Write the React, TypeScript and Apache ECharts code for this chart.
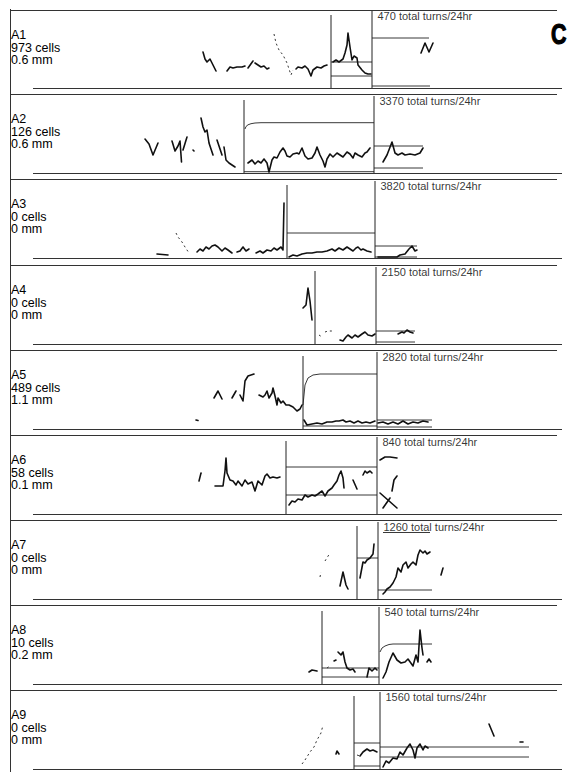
import { useEffect, useRef } from "react";
import * as echarts from "echarts";

type Pt = [number, number];
type Path = Pt[];

// ---- animal records ----
const panelIds = ["A1", "A2", "A3", "A4", "A5", "A6", "A7", "A8", "A9"];
const cellCounts = [973, 126, 0, 0, 489, 58, 0, 10, 0];
const distanceMm = ["0.6", "0.6", "0", "0", "1.1", "0.1", "0", "0.2", "0"];
const totalTurns = [470, 3370, 3820, 2150, 2820, 840, 1260, 540, 1560];

// phase boundaries (time bins): start of the middle phase, start of the last phase
const phaseBounds: Pt[] = [
  [322, 363], [235, 365], [278, 366], [306, 367], [294, 368],
  [277, 368], [348, 369], [313, 370], [345, 371],
];

// ---- activity traces (time bin, activity) ----
const solidA1: Path[] = [
  [[194, 36], [196, 29], [198, 26], [201, 29], [204, 23], [207, 17]],
  [[218, 17], [221, 21], [224, 20], [228, 21], [233, 21], [236, 22]],
  [[239, 20], [244, 27]],
  [[246, 25], [249, 23], [252, 21], [255, 22], [258, 19], [260, 20]],
  [[287, 19], [289, 21], [293, 20], [296, 22], [299, 19], [302, 12], [304, 18], [308, 21], [312, 20], [315, 22], [318, 23]],
  [[324, 26], [327, 28], [330, 26], [334, 29], [336, 35], [338, 43], [339, 55], [341, 41], [343, 28], [345, 32], [348, 30], [349, 23], [353, 18], [356, 15], [359, 14], [362, 14]],
  [[412, 35], [416, 45], [420, 36], [424, 45]],
];
const brokenA1: Path[] = [
  [[265, 54], [267, 45], [270, 38], [274, 33], [278, 25], [282, 13], [284, 18]],
];
const levelsA1: Path[] = [
  [[322, 26], [363, 26]], [[322, 12], [363, 12]],
  [[363, 50], [420, 50]], [[363, 2], [421, 2]],
];

const solidA2: Path[] = [
  [[136, 34], [140, 29], [144, 18], [149, 30]],
  [[163, 32], [166, 22], [169, 27], [171, 32], [172.5, 11]],
  [[174, 23], [178, 36]],
  [[184, 23], [185, 22]],
  [[192, 55], [194, 46], [196, 41], [198, 43], [200, 30], [204, 18]],
  [[208, 33], [213, 18]],
  [[215, 26], [217, 13], [220, 10], [223, 8], [226, 6]],
  [[239, 10], [243, 13], [246, 9], [249, 12], [252, 10], [255, 14], [258, 10], [260, 1], [263, 13], [265, 16], [268, 15], [271, 21], [274, 25], [276, 22], [278, 17], [281, 16], [284, 19], [288, 20], [290, 19], [293, 25], [296, 17], [299, 14], [303, 15], [306, 20], [308, 26], [311, 18], [314, 12], [316, 6], [318, 14], [321, 19], [324, 16], [328, 20], [331, 18], [334, 16], [338, 21], [341, 19], [344, 15], [346, 20], [349, 18], [353, 16], [356, 20], [358, 21], [361, 25]],
  [[374, 11], [378, 18], [383, 31], [386, 20], [389, 18], [393, 20], [396, 18], [401, 19], [406, 18], [411, 20], [414, 25]],
];
const brokenA2: Path[] = [];
const levelsA2: Path[] = [
  [[236, 44], [237, 46.5], [239, 48.2], [242, 49.3], [246, 50], [252, 50.3], [365, 50.3]],
  [[235, 1.3], [365, 1.3]],
  [[365, 27], [414, 27]], [[365, 5], [414, 5]],
];

const solidA3: Path[] = [
  [[148, 4], [159, 3]],
  [[188, 6], [191, 9], [194, 7], [197, 11], [200, 9], [203, 12], [206, 13], [209, 11], [213, 7], [216, 10], [219, 8], [223, 5]],
  [[228, 6], [231, 7], [234, 11], [237, 7], [240, 9]],
  [[247, 5], [251, 7], [254, 5], [258, 8], [262, 7], [265, 10], [268, 8], [272, 11], [274, 8], [275, 55]],
  [[280, 1], [284, 3], [288, 2], [293, 4], [298, 5], [303, 5], [308, 6], [313, 6], [318, 7], [323, 9], [326, 7], [330, 10], [334, 8], [338, 11], [341, 9], [344, 7], [347, 10], [349, 11], [352, 8], [354, 9], [358, 7], [362, 6]],
  [[369, 1], [381, 1], [388, 1], [391, 3], [396, 4], [400, 9], [403, 12], [406, 7], [408, 8]],
];
const brokenA3: Path[] = [
  [[167, 25], [169, 21], [173, 16], [176, 11], [180, 5]],
];
const levelsA3: Path[] = [
  [[278, 25], [366, 25]],
  [[366, 12], [408, 12]], [[366, 1], [408, 1]],
];

const solidA4: Path[] = [
  [[294, 36], [297, 39], [299, 56], [301, 43], [303, 24]],
  [[331, 4], [334, 3], [337, 7], [339, 9], [343, 6], [346, 9], [349, 7], [353, 10], [356, 12], [359, 9], [363, 8], [366, 10]],
  [[389, 10], [393, 12], [395, 11], [398, 14], [401, 12], [404, 11]],
];
const brokenA4: Path[] = [
  [[310, 9], [313, 7]],
  [[316, 12], [319, 13], [323, 13]],
];
const levelsA4: Path[] = [
  [[367, 13], [406, 13]], [[367, 2], [406, 2]],
];

const solidA5: Path[] = [
  [[187, 9], [189, 8.5]],
  [[205, 31], [209, 38], [213, 30]],
  [[223, 31], [227, 38]],
  [[231, 34], [234, 28], [236, 48], [239, 53], [245, 55]],
  [[250, 34], [254, 32], [256, 34], [258, 38], [260, 31], [263, 36], [264, 41], [266, 33], [268, 24], [269, 31], [272, 26], [274, 28], [277, 24], [280, 24], [284, 22], [288, 18], [291, 20], [293, 24]],
  [[295, 9], [298, 4], [303, 5], [308, 6], [313, 5], [318, 7], [323, 7], [327, 8], [330, 8], [334, 9], [337, 7], [341, 8], [345, 6], [349, 8], [353, 6], [357, 7], [361, 6], [366, 8]],
  [[369, 6], [374, 7], [379, 5], [384, 7], [389, 5], [394, 8], [399, 5], [404, 7], [409, 6], [414, 8], [419, 7]],
];
const brokenA5: Path[] = [];
const levelsA5: Path[] = [
  [[294, 24], [296, 44], [299, 51], [304, 54], [311, 55], [368, 55]],
  [[294, 3], [368, 3]],
  [[368, 9], [423, 9]], [[368, 2], [423, 2]],
];

const solidA6: Path[] = [
  [[190, 33], [192, 41]],
  [[206, 28], [211, 28], [214, 28], [216, 43], [217, 56], [218, 41], [221, 34], [224, 33], [227, 29], [229, 33], [233, 28], [236, 34], [239, 30], [243, 32], [246, 23], [249, 33], [253, 29], [256, 38], [258, 40], [261, 36], [264, 37], [268, 36], [271, 37]],
  [[280, 9], [283, 13], [286, 12], [289, 15], [293, 14], [296, 19], [299, 17], [303, 19], [306, 18], [309, 20], [313, 23], [316, 18], [319, 23], [323, 26], [325, 29], [328, 33], [330, 39], [332, 43], [334, 36], [335, 26]],
  [[344, 34], [348, 25]],
  [[354, 39], [356, 43], [358, 41], [361, 43], [363, 41]],
  [[371, 54], [376, 57], [381, 57], [388, 56]],
  [[383, 23], [385, 34], [388, 38]],
  [[371, 21], [388, 6]],
  [[374, 6], [381, 16]],
];
const brokenA6: Path[] = [];
const levelsA6: Path[] = [
  [[277, 47], [368, 47]], [[277, 19], [368, 19]],
];

const solidA7: Path[] = [
  [[331, 13], [334, 27], [337, 14], [339, 10]],
  [[351, 21], [354, 37], [356, 36], [358, 39], [361, 41], [364, 45], [365, 55]],
  [[374, 5], [376, 7], [378, 10], [381, 12], [384, 16], [387, 22], [389, 31], [392, 27], [394, 34], [397, 37], [399, 31], [402, 35], [404, 37], [407, 34], [409, 44], [411, 49], [414, 46], [416, 48], [418, 45], [421, 47]],
  [[432, 24], [434, 31]],
];
const brokenA7: Path[] = [
  [[311, 22], [312, 27]],
  [[316, 38], [321, 46]],
];
const levelsA7: Path[] = [
  [[348, 41], [369, 41]],
  [[369, 9], [423, 9]],
  [[374, 66.5], [421, 66.5]],
];

const solidA8: Path[] = [
  [[300, 12], [303, 14], [308, 13]],
  [[325, 23], [327, 24]],
  [[329, 32], [332, 29], [334, 32], [336, 22], [338, 16], [341, 14], [344, 15], [346, 12]],
  [[358, 7], [360, 16], [363, 13], [366, 16], [368, 14]],
  [[374, 6], [377, 12], [380, 22], [384, 31], [388, 24], [392, 21], [396, 22], [399, 25], [404, 18], [407, 29], [409, 22], [411, 54], [413, 36], [414, 29]],
  [[418, 22], [420, 25], [422, 22]],
];
const brokenA8: Path[] = [
  [[318, 16], [321, 18]],
];
const levelsA8: Path[] = [
  [[313, 16], [370, 16]], [[313, 7], [370, 7]],
  [[371, 32], [373, 36], [376, 38], [380, 39.5], [384, 40], [423, 40]],
];

const solidA9: Path[] = [
  [[327, 15], [328, 18], [330, 15]],
  [[351, 13], [354, 17], [358, 20], [361, 18], [364, 19], [368, 17]],
  [[374, 2], [377, 8], [380, 6], [384, 11], [388, 10], [391, 17], [394, 14], [398, 21], [401, 25], [404, 19], [406, 11], [408, 21], [411, 25], [414, 19], [416, 23], [419, 21]],
  [[480, 45], [485, 33]],
  [[511, 27], [514, 27]],
];
const brokenA9: Path[] = [
  [[293, 5], [296, 9], [301, 17], [305, 22], [308, 29], [312, 36], [314, 44]],
  [[348, 14], [351, 13]],
];
const levelsA9: Path[] = [
  [[345, 26], [371, 26]], [[345, 3], [371, 3]],
  [[371, 22], [520, 22]], [[371, 12], [520, 12]],
];

const solidTraces = [solidA1, solidA2, solidA3, solidA4, solidA5, solidA6, solidA7, solidA8, solidA9];
const brokenTraces = [brokenA1, brokenA2, brokenA3, brokenA4, brokenA5, brokenA6, brokenA7, brokenA8, brokenA9];
const levelLines = [levelsA1, levelsA2, levelsA3, levelsA4, levelsA5, levelsA6, levelsA7, levelsA8, levelsA9];

// ---- layout ----
const W = 579;
const H = 772;
const X_MAX = 560;
const Y_MAX = 86;
const panelBase = [88, 173, 258, 344, 429, 514, 599, 684, 769];
const FONT = '"Liberation Sans", Arial, Helvetica, sans-serif';
const INK = "#111";

function buildOption(): echarts.EChartsOption {
  const grid: any[] = [];
  const xAxis: any[] = [];
  const yAxis: any[] = [];
  const series: any[] = [];
  const graphic: any[] = [];

  graphic.push({
    type: "line",
    shape: { x1: 10.5, y1: 9, x2: 10.5, y2: H },
    style: { stroke: "#333", lineWidth: 1 },
    silent: true,
  });

  panelIds.forEach((id, i) => {
    const base = panelBase[i];
    const top = i === 0 ? 10 : base - 79;
    grid.push({ left: 9, top: base - Y_MAX, width: X_MAX, height: Y_MAX });
    xAxis.push({ gridIndex: i, type: "value", min: 0, max: X_MAX, show: false });
    yAxis.push({ gridIndex: i, type: "value", min: 0, max: Y_MAX, show: false });

    const common = {
      type: "lines",
      coordinateSystem: "cartesian2d",
      xAxisIndex: i,
      yAxisIndex: i,
      polyline: true,
      silent: true,
      z: 3,
    };

    const [b0, b1] = phaseBounds[i];
    series.push({
      ...common,
      name: `${id} bounds`,
      data: [
        { coords: [[b0, 0], [b0, 73]] },
        { coords: [[b1, 0], [b1, 77]] },
      ],
      lineStyle: { color: "#222", width: 1, opacity: 1 },
    });
    series.push({
      ...common,
      name: `${id} levels`,
      data: levelLines[i].map((c) => ({ coords: c })),
      lineStyle: { color: "#222", width: 0.9, opacity: 1 },
    });
    series.push({
      ...common,
      name: `${id} activity`,
      data: solidTraces[i].map((c) => ({ coords: c })),
      lineStyle: { color: INK, width: 1.6, opacity: 1, join: "round", cap: "round" },
    });
    if (brokenTraces[i].length) {
      series.push({
        ...common,
        name: `${id} sparse`,
        data: brokenTraces[i].map((c) => ({ coords: c })),
        lineStyle: { color: "#333", width: 1, opacity: 1, type: [2, 3] },
      });
    }
    series.push({
      type: "scatter",
      name: `${id} turns`,
      xAxisIndex: i,
      yAxisIndex: i,
      silent: true,
      symbolSize: 1,
      itemStyle: { color: "rgba(0,0,0,0)" },
      data: [[b1, 72]],
      label: {
        show: true,
        position: "right",
        distance: 5,
        formatter: `${totalTurns[i]} total turns/24hr`,
        fontFamily: FONT,
        fontSize: 11,
        color: "#000",
      },
    });

    graphic.push({
      type: "line",
      shape: { x1: 10, y1: top + 0.5, x2: 557, y2: top + 0.5 },
      style: { stroke: "#333", lineWidth: 1 },
      silent: true,
    });
    graphic.push({
      type: "line",
      shape: { x1: 33, y1: base + 0.5, x2: 562, y2: base + 0.5 },
      style: { stroke: "#333", lineWidth: 1 },
      silent: true,
    });
    graphic.push({
      type: "text",
      x: 11,
      y: top + 19,
      silent: true,
      style: {
        text: `${id}\n${cellCounts[i]} cells\n${distanceMm[i]} mm`,
        font: `12.5px ${FONT}`,
        lineHeight: 12.5,
        fill: "#000",
        verticalAlign: "top",
      },
    });
  });

  graphic.push({
    type: "text",
    x: 551,
    y: 19,
    scaleX: 0.74,
    silent: true,
    style: {
      text: "C",
      font: `bold 29px ${FONT}`,
      fill: "#000",
      stroke: "#000",
      lineWidth: 1.2,
      verticalAlign: "top",
    },
  });

  return {
    animation: false,
    backgroundColor: "#fff",
    grid,
    xAxis,
    yAxis,
    series,
    graphic,
  };
}

export default function App() {
  const ref = useRef<HTMLDivElement | null>(null);

  useEffect(() => {
    if (!ref.current) return;
    const chart = echarts.init(ref.current, undefined, { renderer: "svg" });
    chart.setOption(buildOption());
    return () => chart.dispose();
  }, []);

  return (
    <div
      ref={ref}
      style={{ position: "absolute", left: 0, top: 0, width: W, height: H }}
    />
  );
}
